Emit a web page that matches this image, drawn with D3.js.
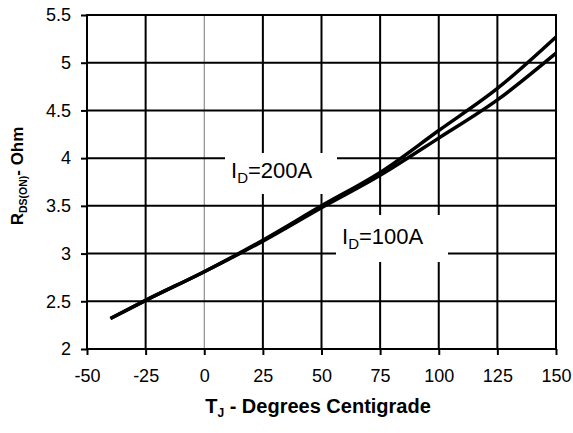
<!DOCTYPE html>
<html>
<head>
<meta charset="utf-8">
<script src="https://cdn.jsdelivr.net/npm/d3@7"></script>
<style>
  body { margin: 0; background: #fff; }
  text { font-family: "Liberation Sans", Arial, sans-serif; fill: #000; }
</style>
</head>
<body>
<div id="chart"></div>
<script>
// junction temperature (deg C)
var temps = [-40, -25, 0, 25, 50, 75, 100, 125, 150];
// Rds(on) for each drain current
var rds100 = [2.32, 2.51, 2.81, 3.13, 3.48, 3.82, 4.21, 4.61, 5.10];
var rds200 = [2.32, 2.51, 2.81, 3.14, 3.50, 3.85, 4.29, 4.73, 5.27];
var xTicks = [-50, -25, 0, 25, 50, 75, 100, 125, 150];
var yTicks = [2, 2.5, 3, 3.5, 4, 4.5, 5, 5.5];

var svgWidth = 573;
var svgHeight = 433;

var svg = d3.select("#chart")
  .append("svg")
  .attr("width", svgWidth)
  .attr("height", svgHeight);

var x = d3.scaleLinear().domain([-50, 150]).range([87, 556]);
var y = d3.scaleLinear().domain([2, 5.5]).range([349, 15]);

// grid
svg.append("g").selectAll("line")
  .data(xTicks)
  .enter().append("line")
  .attr("x1", d => x(d)).attr("x2", d => x(d))
  .attr("y1", y(5.5)).attr("y2", y(2))
  .attr("stroke", d => d === 0 ? "#777" : "#000")
  .attr("stroke-width", d => d === 0 ? 1 : 2);

svg.append("g").selectAll("line")
  .data(yTicks)
  .enter().append("line")
  .attr("x1", x(-50)).attr("x2", x(150))
  .attr("y1", d => y(d)).attr("y2", d => y(d))
  .attr("stroke", "#000")
  .attr("stroke-width", 2);

// axes (ticks + labels), plain hyphen for negatives
var bottomAxis = d3.axisBottom(x).tickValues(xTicks).tickSize(6).tickSizeOuter(0).tickPadding(14)
  .tickFormat(d => String(d));
var leftAxis = d3.axisLeft(y).tickValues(yTicks).tickSize(6).tickSizeOuter(0).tickPadding(10)
  .tickFormat(d => String(d));

var xAxis = svg.append("g")
  .attr("transform", `translate(0, ${y(2)})`)
  .call(bottomAxis);
var yAxis = svg.append("g")
  .attr("transform", `translate(${x(-50)}, 0)`)
  .call(leftAxis);

[xAxis, yAxis].forEach(function(a) {
  a.select(".domain").remove();
  a.selectAll("line").attr("stroke", "#000").attr("stroke-width", 2);
  a.selectAll("text")
    .attr("font-family", "Liberation Sans, Arial, sans-serif")
    .attr("font-size", 18)
    .attr("fill", "#000");
});

// frame
svg.append("rect")
  .attr("x", x(-50)).attr("y", y(5.5))
  .attr("width", x(150) - x(-50)).attr("height", y(2) - y(5.5))
  .attr("fill", "none").attr("stroke", "#000").attr("stroke-width", 2);

// white boxes behind the curve labels
svg.append("rect").attr("x", 225).attr("y", 153).attr("width", 112).attr("height", 41).attr("fill", "#fff");
svg.append("rect").attr("x", 336).attr("y", 215).attr("width", 112).attr("height", 47).attr("fill", "#fff");

// curves
var line = d3.line()
  .x((d, i) => x(temps[i]))
  .y(d => y(d))
  .curve(d3.curveMonotoneX);

svg.append("path").datum(rds100)
  .attr("d", line).attr("fill", "none")
  .attr("stroke", "#000").attr("stroke-width", 3.5);
svg.append("path").datum(rds200)
  .attr("d", line).attr("fill", "none")
  .attr("stroke", "#000").attr("stroke-width", 3.5);

// curve labels
function currentLabel(px, py, amps) {
  var t = svg.append("text").attr("x", px).attr("y", py).attr("font-size", 22);
  t.append("tspan").text("I");
  t.append("tspan").attr("font-size", 15).attr("dy", 5).text("D");
  t.append("tspan").attr("dy", -5).text("=" + amps);
}
currentLabel(231, 178, "200A");
currentLabel(342, 244, "100A");

// axis titles
var xt = svg.append("text")
  .attr("x", 318).attr("y", 413)
  .attr("text-anchor", "middle")
  .attr("font-size", 20).attr("font-weight", "bold");
xt.append("tspan").text("T");
xt.append("tspan").attr("font-size", 12).attr("dy", 4).text("J");
xt.append("tspan").attr("dy", -4).text(" - Degrees Centigrade");

var yt = svg.append("text")
  .attr("transform", "translate(23, 176) rotate(-90)")
  .attr("text-anchor", "middle")
  .attr("font-size", 17).attr("font-weight", "bold");
yt.append("tspan").text("R");
yt.append("tspan").attr("font-size", 10.5).attr("dy", 4).text("DS(ON)");
yt.append("tspan").attr("dy", -4).text("- Ohm");
</script>
</body>
</html>
